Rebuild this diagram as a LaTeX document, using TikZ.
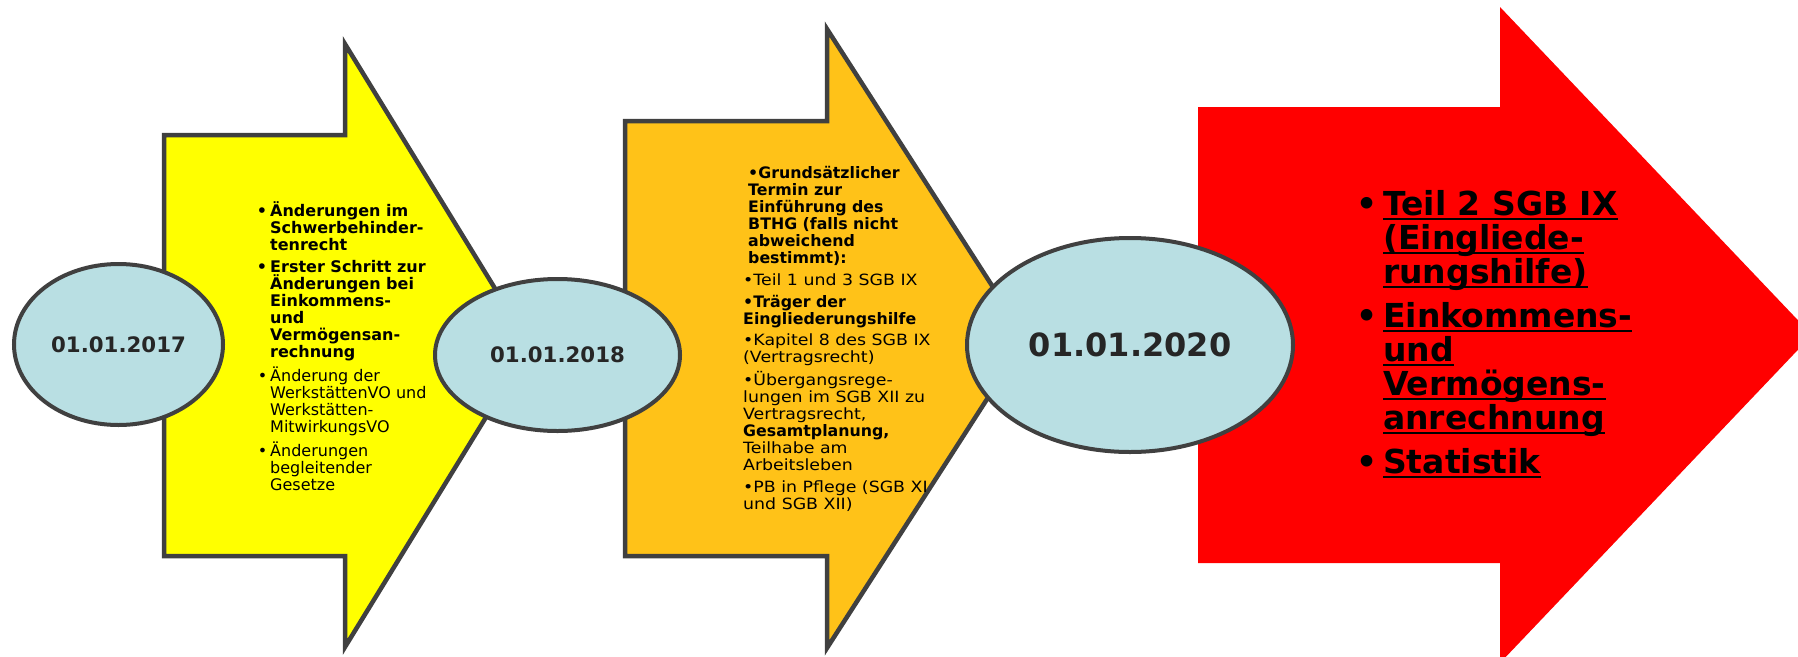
\documentclass[tikz,border=0pt]{standalone}
\usepackage{fontspec}
\setmainfont{DejaVu Sans}
\newfontfamily\widefont[FakeStretch=1.12]{DejaVu Sans}
\usepackage{xcolor}
\usetikzlibrary{shapes.geometric}

\definecolor{datefill}{RGB}{185,223,227}
\definecolor{edgegray}{RGB}{64,64,64}
\definecolor{datetext}{RGB}{38,38,38}
\definecolor{stepyellow}{RGB}{255,255,0}
\definecolor{steporange}{RGB}{255,194,24}
\definecolor{stepred}{RGB}{255,0,0}

% thick underline for the last step
\newcommand{\ulline}[1]{\setbox0=\hbox{#1}\rlap{\rule[-5pt]{\wd0}{2.6pt}}\box0}
% bold lines in the second step
\newcommand{\obf}[1]{{\normalfont\fontsize{15.8}{17}\selectfont\bfseries #1}}

\begin{document}
\begin{tikzpicture}[x=1pt,y=-1pt,
    datebox/.style={ellipse,draw=edgegray,line width=4pt,fill=datefill,inner sep=0pt,text=datetext},
    arrowline/.style={draw=edgegray,line width=4.5pt,line join=miter},
    steptext/.style={anchor=north west,inner sep=0pt,align=left,font=\fontsize{16}{17}\selectfont}]
    \useasboundingbox (0,0) rectangle (1798,656);
    \clip (0,0) rectangle (1798,656);

    % Arrow 1
    \filldraw[arrowline,fill=stepyellow] (164,135) -- (345,135) -- (345,44) -- (530,345.5) -- (345,647) -- (345,556) -- (164,556) -- cycle;

    % Arrow 2
    \filldraw[arrowline,fill=steporange] (625,121) -- (827,121) -- (827,29) -- (1026,338.5) -- (827,648) -- (827,556) -- (625,556) -- cycle;

    % Arrow 3 (no border, tip runs off the page)
    \fill[stepred] (1198,107) -- (1500,107) -- (1500,7) -- (1812,335) -- (1500,663) -- (1500,563) -- (1198,563) -- cycle;

    % Texts in the arrows
    \node[steptext] (text2017) at (270,201) {%
        \textbf{\llap{•\hspace{3pt}}Änderungen im}\\
        \textbf{Schwerbehinder-}\\
        \textbf{tenrecht}\\[5pt]
        \textbf{\llap{•\hspace{3pt}}Erster Schritt zur}\\
        \textbf{Änderungen bei}\\
        \textbf{Einkommens-}\\
        \textbf{und}\\
        \textbf{Vermögensan-}\\
        \textbf{rechnung}\\[5pt]
        \llap{•\hspace{3pt}}Änderung der\\
        WerkstättenVO und\\
        Werkstätten-\\
        MitwirkungsVO\\[5pt]
        \llap{•\hspace{3pt}}Änderungen\\
        begleitender\\
        Gesetze};

    \node[steptext,font=\widefont\fontsize{15.5}{17}\selectfont] (text2018) at (743,166.5) {%
        \hspace*{5pt}\obf{•Grundsätzlicher}\\
        \hspace*{5pt}\obf{Termin zur}\\
        \hspace*{5pt}\obf{Einführung des}\\
        \hspace*{5pt}\obf{BTHG (falls nicht}\\
        \hspace*{5pt}\obf{abweichend}\\
        \hspace*{5pt}\obf{bestimmt):}\\[4.6pt]
        •Teil 1 und 3 SGB IX\\[4.6pt]
        \obf{•Träger der}\\
        \obf{Eingliederungshilfe}\\[4.6pt]
        •Kapitel 8 des SGB IX\\
        (Vertragsrecht)\\[4.6pt]
        •Übergangsrege-\\
        lungen im SGB XII zu\\
        Vertragsrecht,\\
        \obf{Gesamtplanung,}\\
        Teilhabe am\\
        Arbeitsleben\\[4.6pt]
        •PB in Pflege (SGB XI\\
        und SGB XII)};

    \node[steptext,font=\fontsize{33}{34}\bfseries] (text2020) at (1383,190) {%
        \llap{•\hspace{6pt}}\ulline{Teil 2 SGB IX}\\
        \ulline{(Eingliede-}\\
        \ulline{rungshilfe)}\\[10pt]
        \llap{•\hspace{6pt}}\ulline{Einkommens-}\\
        \ulline{und}\\
        \ulline{Vermögens-}\\
        \ulline{anrechnung}\\[10pt]
        \llap{•\hspace{6pt}}\ulline{Statistik}};

    % Dates
    \node[datebox,minimum width=209pt,minimum height=161pt,font=\fontsize{21.3}{24}\bfseries] (d2017) at (118.5,344.5) {01.01.2017};
    \node[datebox,minimum width=245pt,minimum height=152pt,font=\fontsize{21.3}{24}\bfseries] (d2018) at (557.5,355) {01.01.2018};
    \node[datebox,minimum width=326pt,minimum height=214pt,font=\fontsize{32}{36}\bfseries] (d2020) at (1130,345) {01.01.2020};
\end{tikzpicture}
\end{document}
